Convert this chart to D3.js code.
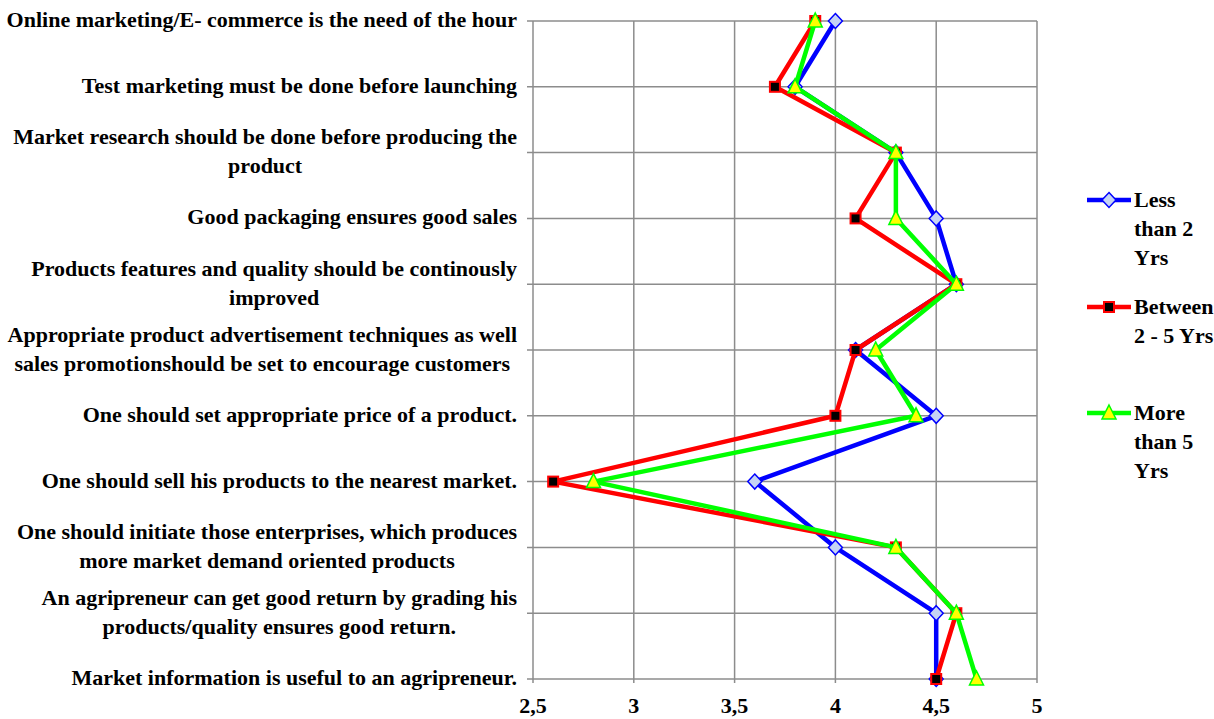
<!DOCTYPE html>
<html>
<head>
<meta charset="utf-8">
<script src="https://cdn.jsdelivr.net/npm/d3@7"></script>
<style>
    body { margin: 0; background: #fff; }
    svg { display: block; }
    text { font-family: "Liberation Serif", "Times New Roman", "DejaVu Serif", serif; font-weight: bold; fill: #000; }
</style>
</head>
<body>
<svg id="chart" width="1214" height="719"></svg>
<script>
// statements, top to bottom, each split into its printed lines
let statements = [
    ["Online marketing/E- commerce is the need of the hour"],
    ["Test marketing must be done before launching"],
    ["Market research should be done before producing the", "product"],
    ["Good packaging ensures good sales"],
    ["Products features and quality should be continously", "improved"],
    ["Appropriate product advertisement techniques as well", "sales promotionshould be set to encourage customers"],
    ["One should set appropriate price of a product."],
    ["One should sell his products to the nearest market."],
    ["One should initiate those enterprises, which produces", "more market demand oriented products"],
    ["An agripreneur can get good return by grading his", "products/quality ensures good return."],
    ["Market information is useful to an agripreneur."]
];

let lessThan2 = [4.0, 3.8, 4.3, 4.5, 4.6, 4.1, 4.5, 3.6, 4.0, 4.5, 4.5];
let between2and5 = [3.9, 3.7, 4.3, 4.1, 4.6, 4.1, 4.0, 2.6, 4.3, 4.6, 4.5];
let moreThan5 = [3.9, 3.8, 4.3, 4.3, 4.6, 4.2, 4.4, 2.8, 4.3, 4.6, 4.7];

let xTicks = [2.5, 3, 3.5, 4, 4.5, 5];
let legendNames = [["Less", "than 2", "Yrs"], ["Between", "2 - 5 Yrs"], ["More", "than 5", "Yrs"]];

let series = [
    {name: legendNames[0], values: lessThan2, color: "#0000ff", marker: "diamond"},
    {name: legendNames[1], values: between2and5, color: "#ff0000", marker: "square"},
    {name: legendNames[2], values: moreThan5, color: "#00ff00", marker: "triangle"}
];

let svg = d3.select("#chart");

let plotLeft = 533, plotRight = 1037, plotTop = 21, plotBottom = 679;
let fontSize = "22px";
let ids = statements.map((d, i) => i);

let x = d3.scaleLinear().domain([2.5, 5]).range([plotLeft, plotRight]);
let y = d3.scalePoint().domain(ids).range([plotTop, plotBottom]);

// grid
let grid = svg.append("g").attr("class", "grid");
grid.selectAll(".vgrid").data(xTicks).enter().append("line")
    .attr("class", "vgrid")
    .attr("x1", d => x(d)).attr("x2", d => x(d))
    .attr("y1", plotTop).attr("y2", plotBottom + 4)
    .style("stroke", "#8c8c8c").style("stroke-width", "1.5px");
grid.selectAll(".hgrid").data(ids).enter().append("line")
    .attr("class", "hgrid")
    .attr("x1", plotLeft - 6).attr("x2", plotRight)
    .attr("y1", d => y(d)).attr("y2", d => y(d))
    .style("stroke", "#8c8c8c").style("stroke-width", "1.5px");

// category labels
let labels = svg.append("g").attr("class", "labels");
labels.selectAll("text").data(ids).enter().append("text")
    .attr("text-anchor", "middle")
    .style("font-size", fontSize)
    .each(function(i){
        let lines = statements[i];
        let t = d3.select(this);
        let n = lines.length;
        lines.forEach((ln, k) => {
            t.append("tspan").text(ln)
                .attr("y", y(i) + (k - (n - 1) / 2) * 29 + 6);
        });
    });

// right align the block, center the lines inside it
labels.selectAll("text").each(function(){
    let t = d3.select(this);
    let w = 0;
    t.selectAll("tspan").each(function(){ w = Math.max(w, this.getComputedTextLength()); });
    t.selectAll("tspan").attr("x", 517 - w / 2);
});

// x tick labels
svg.append("g").selectAll("text").data(xTicks).enter().append("text")
    .attr("x", d => x(d)).attr("y", 713)
    .attr("text-anchor", "middle")
    .style("font-size", fontSize)
    .text(d => String(d).replace(".", ","));

// markers
let drawMarker = function(sel, type, color){
    if(type === "diamond"){
        sel.append("path").attr("d", "M0,-7.5L7,0L0,7.5L-7,0Z")
            .style("fill", "#c6d4f4").style("stroke", color).style("stroke-width", "1.5px");
    }else if(type === "square"){
        sel.append("rect").attr("x", -5).attr("y", -5).attr("width", 10).attr("height", 10)
            .style("fill", "#000").style("stroke", color).style("stroke-width", "2px");
    }else{
        sel.append("path").attr("d", "M0,-8L7,6L-7,6Z")
            .style("fill", "#ffff00").style("stroke", color).style("stroke-width", "1.5px");
    }
};

let line = d3.line().x(d => x(d.v)).y(d => y(d.i));

series.forEach(s => {
    let pts = s.values.map((v, i) => ({v: v, i: i}));
    let g = svg.append("g");
    g.append("path").datum(pts)
        .attr("d", line)
        .style("fill", "none")
        .style("stroke", s.color)
        .style("stroke-width", "4.5px")
        .style("stroke-linejoin", "round");
    g.selectAll(".mk").data(pts).enter().append("g")
        .attr("class", "mk")
        .attr("transform", d => "translate(" + x(d.v) + "," + y(d.i) + ")")
        .each(function(){ drawMarker(d3.select(this), s.marker, s.color); });
});

// legend
let legendY = [200, 307, 413];
series.forEach((s, k) => {
    let g = svg.append("g").attr("transform", "translate(1087," + legendY[k] + ")");
    g.append("line").attr("x1", 0).attr("x2", 44).attr("y1", 0).attr("y2", 0)
        .style("stroke", s.color).style("stroke-width", "4.5px");
    let m = g.append("g").attr("transform", "translate(22,0)");
    drawMarker(m, s.marker, s.color);
    let t = g.append("text").style("font-size", fontSize);
    s.name.forEach((ln, j) => {
        t.append("tspan").attr("x", 47).attr("y", j * 29 + 7).text(ln);
    });
});
</script>
</body>
</html>
